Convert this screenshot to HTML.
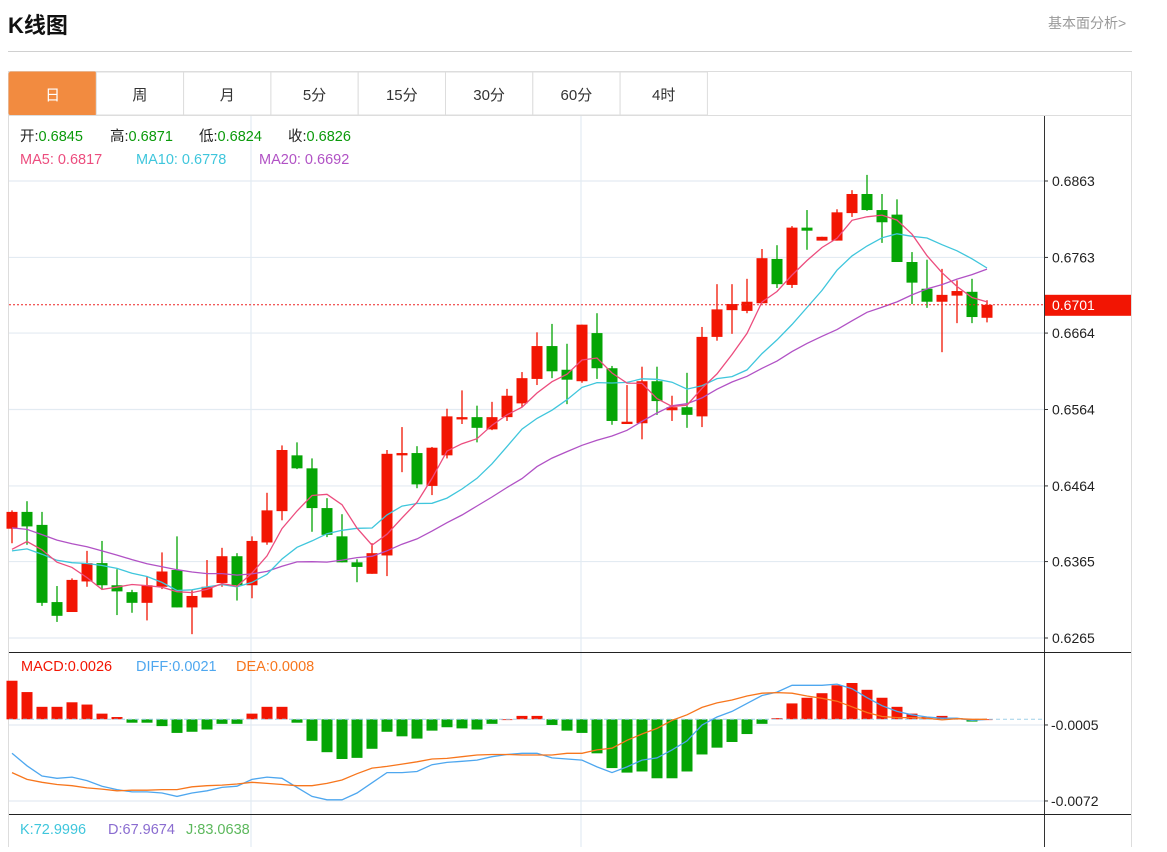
<!DOCTYPE html>
<html><head><meta charset="utf-8">
<style>
body{margin:0;background:#fff;width:1167px;height:847px;overflow:hidden;font-family:"Liberation Sans","Noto Sans CJK SC",sans-serif;}
svg text{font-family:"Liberation Sans","Noto Sans CJK SC",sans-serif;white-space:pre;}
</style></head>
<body>
<svg id="chart" width="1167" height="847" xmlns="http://www.w3.org/2000/svg">
<text x="8" y="33" font-size="22" font-weight="bold" fill="#111">K线图</text>
<text x="1048" y="28" font-size="14" fill="#999">基本面分析&gt;</text>
<line x1="8" y1="51.5" x2="1132" y2="51.5" stroke="#d0d0d0"/>
<rect x="8.5" y="71.5" width="1123" height="780" fill="none" stroke="#ddd"/>
<g id="tabs"></g>
<g id="grid"></g>
<g id="main"></g>
<g id="macd"></g>
<g id="texts"></g>
</svg>
<script>
// ---- data ----
const opens=[0.6408,0.6430,0.6413,0.6312,0.6299,0.6339,0.6363,0.6334,0.6325,0.6311,0.6332,0.6354,0.6305,0.6318,0.6337,0.6372,0.6334,0.6390,0.6431,0.6504,0.6487,0.6435,0.6398,0.6364,0.6349,0.6373,0.6504,0.6507,0.6464,0.6504,0.6551,0.6554,0.6538,0.6554,0.6572,0.6604,0.6647,0.6616,0.6601,0.6664,0.6618,0.6545,0.6546,0.6601,0.6563,0.6567,0.6555,0.6659,0.6694,0.6693,0.6703,0.6761,0.6727,0.6802,0.6785,0.6785,0.6821,0.6846,0.6825,0.6819,0.6757,0.6722,0.6705,0.6713,0.6718,0.6684];
const closes=[0.6430,0.6411,0.6311,0.6294,0.6341,0.6363,0.6334,0.6326,0.6311,0.6334,0.6352,0.6305,0.6320,0.6332,0.6372,0.6334,0.6392,0.6432,0.6511,0.6487,0.6435,0.6400,0.6364,0.6358,0.6376,0.6506,0.6507,0.6466,0.6514,0.6555,0.6554,0.6540,0.6554,0.6582,0.6605,0.6647,0.6614,0.6603,0.6675,0.6618,0.6549,0.6548,0.6601,0.6575,0.6567,0.6557,0.6659,0.6695,0.6702,0.6705,0.6762,0.6728,0.6802,0.6798,0.6790,0.6822,0.6846,0.6825,0.6809,0.6757,0.6730,0.6705,0.6714,0.6719,0.6685,0.6701];
const highs=[0.6432,0.6444,0.6430,0.6333,0.6343,0.6379,0.6392,0.6355,0.6328,0.6346,0.6377,0.6398,0.6328,0.6367,0.6383,0.6376,0.6398,0.6455,0.6517,0.6521,0.6500,0.6448,0.6427,0.6368,0.6389,0.6511,0.6541,0.6516,0.6515,0.6565,0.6589,0.6569,0.6574,0.6591,0.6613,0.6665,0.6676,0.6650,0.6675,0.6690,0.6621,0.6596,0.6620,0.6620,0.6582,0.6612,0.6672,0.6728,0.6728,0.6735,0.6774,0.6779,0.6804,0.6825,0.6790,0.6826,0.6851,0.6871,0.6846,0.6839,0.6770,0.6760,0.6748,0.6733,0.6735,0.6707];
const lows=[0.6389,0.6387,0.6307,0.6286,0.6299,0.6332,0.6328,0.6295,0.6298,0.6288,0.6329,0.6305,0.6270,0.6318,0.6332,0.6314,0.6317,0.6387,0.6419,0.6486,0.6404,0.6397,0.6364,0.6338,0.6349,0.6346,0.6482,0.6461,0.6452,0.6500,0.6545,0.6521,0.6537,0.6549,0.6567,0.6596,0.6605,0.6571,0.6599,0.6604,0.6544,0.6545,0.6525,0.6557,0.6549,0.6540,0.6541,0.6654,0.6663,0.6690,0.6703,0.6723,0.6723,0.6773,0.6785,0.6785,0.6816,0.6824,0.6782,0.6757,0.6702,0.6697,0.6639,0.6677,0.6677,0.6678];
const priorCloses=[0.6450,0.6445,0.6440,0.6435,0.6440,0.6445,0.6435,0.6430,0.6440,0.6430,0.6385,0.6380,0.6375,0.6372,0.6373,0.6360,0.6365,0.6375,0.6375];
const macdVals=[0.0034,0.0024,0.0011,0.0011,0.0015,0.0013,0.0005,0.0002,-0.0003,-0.0003,-0.0006,-0.0012,-0.0011,-0.0009,-0.0004,-0.0004,0.0005,0.0011,0.0011,-0.0003,-0.0019,-0.0029,-0.0035,-0.0034,-0.0026,-0.0011,-0.0015,-0.0017,-0.0010,-0.0007,-0.0008,-0.0009,-0.0004,0,0.0003,0.0003,-0.0005,-0.0010,-0.0012,-0.0030,-0.0043,-0.0047,-0.0046,-0.0052,-0.0052,-0.0046,-0.0031,-0.0025,-0.0020,-0.0013,-0.0004,0.0001,0.0014,0.0019,0.0023,0.0030,0.0032,0.0026,0.0019,0.0011,0.0005,0.0002,0.0003,0.0001,-0.0002,0];
const diffVals=[-0.0030,-0.0041,-0.0050,-0.0052,-0.0051,-0.0054,-0.0059,-0.0062,-0.0064,-0.0064,-0.0065,-0.0068,-0.0065,-0.0063,-0.0060,-0.0059,-0.0053,-0.0051,-0.0052,-0.0060,-0.0068,-0.0071,-0.0071,-0.0065,-0.0056,-0.0047,-0.0047,-0.0046,-0.0040,-0.0038,-0.0037,-0.0036,-0.0033,-0.0031,-0.0030,-0.0030,-0.0034,-0.0035,-0.0036,-0.0042,-0.0047,-0.0042,-0.0036,-0.0034,-0.0027,-0.0019,-0.0005,0.0002,0.0007,0.0014,0.0021,0.0024,0.0030,0.0030,0.0030,0.0031,0.0027,0.0019,0.0012,0.0007,0.0004,0.0002,0.0001,0.0001,-0.0001,0];
const priceTicks=[0.6863,0.6763,0.6664,0.6564,0.6464,0.6365,0.6265];
const macdTicks=[-0.0005,-0.0072];
const tabLabels=["日","周","月","5分","15分","30分","60分","4时"];
const lastPrice=0.6701;

// ---- scales ----
const NS="http://www.w3.org/2000/svg";
function mk(tag,attrs,parent){const e=document.createElementNS(NS,tag);for(const k in attrs)e.setAttribute(k,attrs[k]);parent.appendChild(e);return e;}
const xOf=i=>12+i*15;
const yP=p=>181+(0.6863-p)*7642;
const yM=v=>719.3-v*11343;
const RED="#f21503",GREEN="#05a505";

// tabs
const tabs=document.getElementById('tabs');
tabLabels.forEach((t,i)=>{
  const x=9+i*87.3;
  const r=mk('rect',{x:x,y:72,width:87.3,height:43,fill:i===0?'#f28b40':'#fff',stroke:i===0?'#f28b40':'#ddd','stroke-width':1,rx:i===0?2:0},tabs);
  
  
  const tx=mk('text',{x:x+43.6,y:100,'text-anchor':'middle','font-size':15,fill:i===0?'#fff':'#333'},tabs);
  tx.textContent=t;
  
  
});
mk('line',{x1:9,y1:115.5,x2:1131,y2:115.5,stroke:'#ddd'},tabs);

// grid & axes
const grid=document.getElementById('grid');
priceTicks.forEach(p=>{
  const y=yP(p);
  const l=mk('line',{x1:9,y1:y,x2:1044,y2:y,stroke:'#e3ebf2','stroke-width':1.2},grid);
  
  
  mk('line',{x1:1044,y1:y,x2:1048,y2:y,stroke:'#333'},grid);
  const t=mk('text',{x:1052,y:y+5,'font-size':14,fill:'#222'},grid);
  t.textContent=p.toFixed(4);
  
  
});
macdTicks.forEach(v=>{
  const y=yM(v);
  mk('line',{x1:9,y1:y,x2:1044,y2:y,stroke:'#e3ebf2','stroke-width':1.2},grid);
  mk('line',{x1:1044,y1:y,x2:1048,y2:y,stroke:'#333'},grid);
  const t=mk('text',{x:1051,y:y+5,'font-size':14,fill:'#222'},grid);
  t.textContent=v.toFixed(4);
  
  
});
[251,581].forEach(x=>mk('line',{x1:x,y1:116,x2:x,y2:847,stroke:'#e3ebf2','stroke-width':1.2},grid));
mk('line',{x1:1044.5,y1:116,x2:1044.5,y2:847,stroke:'#333'},grid);
mk('line',{x1:9,y1:652.5,x2:1131,y2:652.5,stroke:'#222'},grid);
mk('line',{x1:9,y1:814.5,x2:1131,y2:814.5,stroke:'#222'},grid);

// candles
const main=document.getElementById('main');
opens.forEach((o,i)=>{
  const c=closes[i],up=c>=o,col=up?RED:GREEN,x=xOf(i);
  const w=mk('line',{x1:x,y1:yP(highs[i]),x2:x,y2:yP(lows[i]),stroke:col,'stroke-width':1.3},main);
  
  
  const top=yP(Math.max(o,c)),h=Math.max(1.5,Math.abs(yP(o)-yP(c)));
  const b=mk('rect',{x:x-5.5,y:top,width:11,height:h,fill:col},main);
  
  
});
// moving averages
const all=priorCloses.concat(closes);
function ma(n){return closes.map((_,i)=>{let s=0;const k=i+priorCloses.length;for(let j=k-n+1;j<=k;j++)s+=all[j];return s/n;});}
[[20,'#b152c5','ma20-line'],[10,'#3fc6dc','ma10-line'],[5,'#ec4d7e','ma5-line']].forEach(([n,col,name])=>{
  const v=ma(n);
  const pl=mk('polyline',{points:v.map((p,i)=>xOf(i)+','+yP(p).toFixed(1)).join(' '),fill:'none',stroke:col,'stroke-width':1.3},main);
  
  
});
// last price line
const ly=yP(lastPrice);
mk('line',{x1:9,y1:ly,x2:1044,y2:ly,stroke:'#e22','stroke-width':1,'stroke-dasharray':'2,2'},main);
const lr=mk('rect',{x:1045,y:ly-10,width:86,height:21,fill:'#f21503'},main);


const lt=mk('text',{x:1052,y:ly+5,'font-size':14,fill:'#fff'},main);
lt.textContent=lastPrice.toFixed(4);

// macd
const mg=document.getElementById('macd');
macdVals.forEach((v,i)=>{
  const x=xOf(i),y0=yM(0),y=yM(v);
  const r=mk('rect',{x:x-5.5,y:Math.min(y0,y),width:11,height:Math.max(0.8,Math.abs(y-y0)),fill:v>=0?RED:GREEN},mg);
  
  
});
mk('line',{x1:9,y1:yM(0),x2:1044,y2:yM(0),stroke:'#9fd0e8','stroke-dasharray':'4,3'},mg);
const deaVals=diffVals.map((d,i)=>d-macdVals[i]/2);
[[diffVals,'#4ea7ef','diff-line'],[deaVals,'#f7761d','dea-line']].forEach(([arr,col,name])=>{
  const pl=mk('polyline',{points:arr.map((v,i)=>xOf(i)+','+yM(v).toFixed(1)).join(' '),fill:'none',stroke:col,'stroke-width':1.3},mg);
  
  
});

// texts
const tg=document.getElementById('texts');
function label(x,y,parts,name){
  const t=mk('text',{x:x,y:y,'font-size':14.5},tg);
  
  
  parts.forEach(([s,c])=>{const sp=mk('tspan',{fill:c},t);sp.textContent=s;});
}
label(20,141,[["开:","#222"],["0.6845","#0a9a0a"]],'open-legend');
label(110,141,[["高:","#222"],["0.6871","#0a9a0a"]],'high-legend');
label(199,141,[["低:","#222"],["0.6824","#0a9a0a"]],'low-legend');
label(288,141,[["收:","#222"],["0.6826","#0a9a0a"]],'close-legend');
label(20,164,[["MA5: 0.6817","#ec4d7e"]],'ma5-legend');
label(136,164,[["MA10: 0.6778","#3fc6dc"]],'ma10-legend');
label(259,164,[["MA20: 0.6692","#b152c5"]],'ma20-legend');
label(21,671,[["MACD:0.0026","#f21503"]],'macd-legend');
label(136,671,[["DIFF:0.0021","#4ea7ef"]],'diff-legend');
label(236,671,[["DEA:0.0008","#f7761d"]],'dea-legend');
label(20,834,[["K:72.9996","#3fc6dc"]],'k-legend');
label(108,834,[["D:67.9674","#8a6cd0"]],'d-legend');
label(186,834,[["J:83.0638","#5cb85c"]],'j-legend');
</script>
</body></html>
